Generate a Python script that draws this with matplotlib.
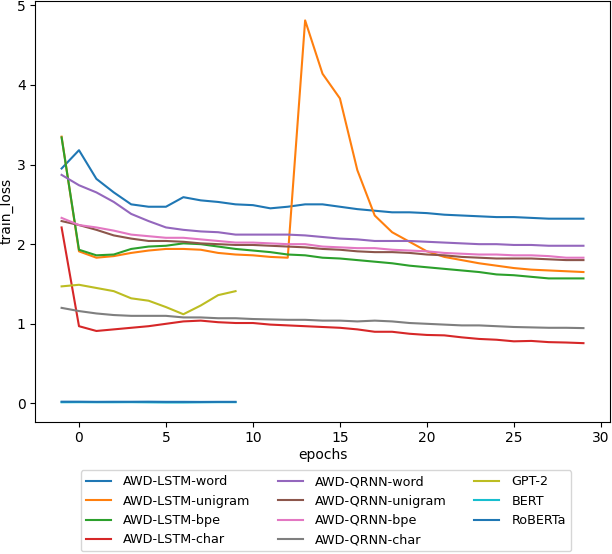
import numpy as np
import matplotlib
matplotlib.use("Agg")
import matplotlib.pyplot as plt

# epochs (logged from -1)
epochs_rnn = list(range(-1, 30))
epochs_tf = list(range(-1, 10))

lstm_word = [2.95, 3.18, 2.82, 2.65, 2.50, 2.47, 2.47, 2.59, 2.55, 2.53, 2.50,
             2.49, 2.45, 2.47, 2.50, 2.50, 2.47, 2.44, 2.42, 2.40, 2.40,
             2.39, 2.37, 2.36, 2.35, 2.34, 2.34, 2.33, 2.32, 2.32, 2.32]
lstm_unigram = [3.35, 1.91, 1.83, 1.85, 1.89, 1.92, 1.94, 1.94, 1.93, 1.89, 1.87,
                1.86, 1.84, 1.83, 4.81, 4.14, 3.83, 2.93, 2.36, 2.15, 2.03,
                1.91, 1.84, 1.80, 1.76, 1.73, 1.70, 1.68, 1.67, 1.66, 1.65]
lstm_bpe = [3.34, 1.93, 1.86, 1.87, 1.94, 1.97, 1.98, 2.01, 2.00, 1.97, 1.94,
            1.92, 1.90, 1.87, 1.86, 1.83, 1.82, 1.80, 1.78, 1.76, 1.73,
            1.71, 1.69, 1.67, 1.65, 1.62, 1.61, 1.59, 1.57, 1.57, 1.57]
lstm_char = [2.21, 0.97, 0.91, 0.93, 0.95, 0.97, 1.00, 1.03, 1.04, 1.02, 1.01,
             1.01, 0.99, 0.98, 0.97, 0.96, 0.95, 0.93, 0.90, 0.90, 0.875,
             0.86, 0.855, 0.83, 0.81, 0.80, 0.78, 0.785, 0.77, 0.765, 0.757]
qrnn_word = [2.87, 2.74, 2.65, 2.53, 2.38, 2.29, 2.21, 2.18, 2.16, 2.15, 2.12,
             2.12, 2.12, 2.12, 2.11, 2.09, 2.07, 2.06, 2.04, 2.04, 2.04,
             2.03, 2.02, 2.01, 2.00, 2.00, 1.99, 1.99, 1.98, 1.98, 1.98]
qrnn_unigram = [2.29, 2.24, 2.18, 2.11, 2.07, 2.04, 2.04, 2.03, 2.01, 2.00, 1.99,
                1.99, 1.98, 1.97, 1.96, 1.94, 1.93, 1.91, 1.90, 1.90, 1.89,
                1.87, 1.86, 1.84, 1.83, 1.82, 1.82, 1.82, 1.81, 1.80, 1.80]
qrnn_bpe = [2.33, 2.24, 2.21, 2.17, 2.12, 2.10, 2.08, 2.08, 2.06, 2.04, 2.02,
            2.02, 2.01, 2.00, 2.00, 1.97, 1.96, 1.95, 1.95, 1.93, 1.92,
            1.91, 1.89, 1.88, 1.87, 1.87, 1.86, 1.86, 1.85, 1.83, 1.83]
qrnn_char = [1.20, 1.16, 1.13, 1.11, 1.10, 1.10, 1.10, 1.08, 1.08, 1.07, 1.07,
             1.06, 1.055, 1.05, 1.05, 1.04, 1.04, 1.03, 1.04, 1.03, 1.01,
             1.00, 0.99, 0.98, 0.98, 0.97, 0.96, 0.955, 0.95, 0.95, 0.946]
gpt2 = [1.47, 1.49, 1.45, 1.41, 1.32, 1.29, 1.21, 1.12, 1.23, 1.36, 1.41]
bert = [0.015, 0.016, 0.015, 0.015, 0.016, 0.014, 0.012, 0.012, 0.014, 0.016, 0.016]
roberta = [0.022, 0.022, 0.020, 0.021, 0.021, 0.022, 0.020, 0.020, 0.019, 0.020, 0.020]

rnn_runs = [("AWD-LSTM-word", lstm_word), ("AWD-LSTM-unigram", lstm_unigram),
            ("AWD-LSTM-bpe", lstm_bpe), ("AWD-LSTM-char", lstm_char),
            ("AWD-QRNN-word", qrnn_word), ("AWD-QRNN-unigram", qrnn_unigram),
            ("AWD-QRNN-bpe", qrnn_bpe), ("AWD-QRNN-char", qrnn_char)]
tf_runs = [("GPT-2", gpt2), ("BERT", bert), ("RoBERTa", roberta)]

fig = plt.figure(figsize=(6.12, 5.54), dpi=100)
ax = fig.add_axes([0.058, 0.239, 0.938, 0.7587])

for name, vals in rnn_runs:
    ax.plot(epochs_rnn, vals, label=name)
for name, vals in tf_runs:
    ax.plot(epochs_tf, vals, label=name)

ax.set_xlabel("epochs", labelpad=2)
ax.set_ylabel("train_loss", labelpad=2)

fig.legend(loc="lower center", bbox_to_anchor=(0.5325, -0.007), ncol=3,
           fontsize=9.2, handletextpad=0.95, columnspacing=2.1)

fig.savefig("out.png", dpi=100)
